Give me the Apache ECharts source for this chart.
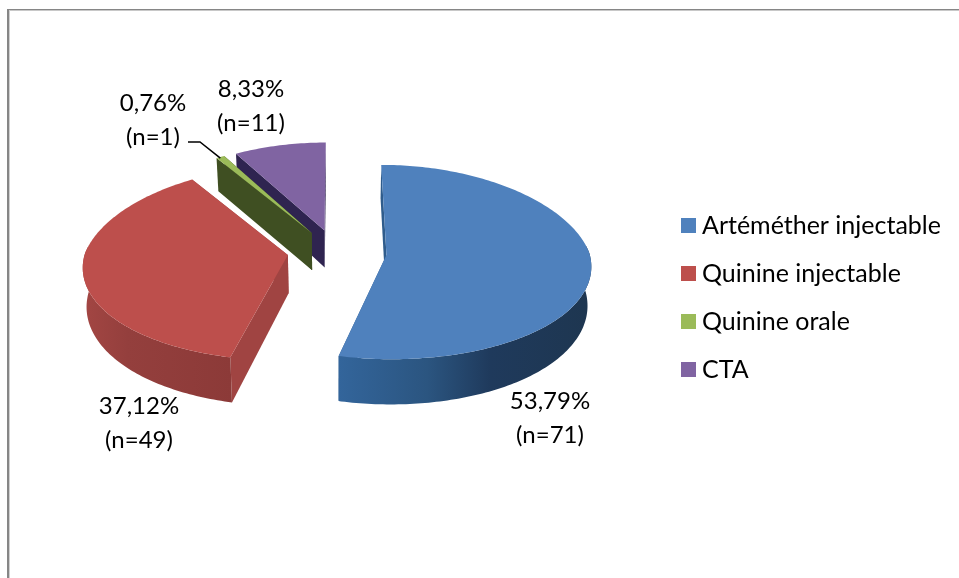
<!DOCTYPE html>
<html>
<head>
<meta charset="utf-8">
<style>
  html, body { margin: 0; padding: 0; background: #fff; }
  #chart { width: 959px; height: 578px; }
</style>
<script src="https://cdn.jsdelivr.net/npm/echarts@6/dist/echarts.min.js"></script>
</head>
<body>
<div id="chart"></div>
<script>
const names = ['Artéméther injectable', 'Quinine injectable', 'Quinine orale', 'CTA'];
const counts = [71, 49, 1, 11];
const percents = ['53,79%', '37,12%', '0,76%', '8,33%'];

const topColors = ['#4f81bd', '#bd4f4c', '#9bbb59', '#8064a2'];
const wallColors = ['#2f5c8c', '#a04442', '#3f4f22', '#2f2450'];
const rimStops = [
    [[0, '#33659b'], [0.35, '#2b5580'], [0.6, '#1f3a5c'], [1, '#1e3650']],
    [[0, '#a34643'], [0.3, '#943f3d'], [1, '#8c3a38']],
    [[0, '#3f4f22'], [1, '#3f4f22']],
    [[0, '#2f2450'], [1, '#2f2450']]
];
// label centres, same order as names
const labelPos = [[550, 418], [139, 423], [153, 120], [251, 106]];

const FONT = 'Lato';
const total = counts.reduce((a, b) => a + b, 0);
const rad = d => d * Math.PI / 180;

// hand tuned 3d view: ellipse + a bit of perspective
const view = { x0: 337, y0: 253, sx: 203, sy: 96.4, k: 0.064, kxFar: 0.12, kxNear: 0.09, depth: 38.3, kd: 0.149, explode: 0.245, lowShrink: 0.985 };

function project(u, v, low) {
    const py = 1 + view.k * v;
    const px = 1 + (v > 0 ? view.kxFar : view.kxNear) * v;
    const d = low ? view.depth / (1 + view.kd * v) : 0;
    const s = low ? view.lowShrink : 1;
    return [view.x0 + view.sx * u * s / px, view.y0 - view.sy * v / py + d];
}

function startOf(i) {
    let sum = 0;
    for (let j = 0; j < i; j++) sum += counts[j];
    return sum / total * 360;
}

function renderSlice(i) {
    return function (params, api) {
        const a0 = startOf(i);
        const a1 = a0 + api.value(0) / total * 360;
        const mid = rad((a0 + a1) / 2);
        const cu = view.explode * Math.sin(mid);
        const cv = view.explode * Math.cos(mid);
        const rimPt = (a, low) => project(cu + Math.sin(rad(a)), cv + Math.cos(rad(a)), low);
        // apexes of the two side slices sit a little higher than a plain explode gives
        const apex = low => project(cu, Math.max(cv, -0.02), low);

        const arc = [];
        for (let a = a0; a < a1; a += 1) arc.push(rimPt(a, false));
        arc.push(rimPt(a1, false));
        const top = [apex(false)].concat(arc);

        const wall = (a, fill) => ({
            type: 'polygon',
            shape: { points: [apex(false), rimPt(a, false), rimPt(a, true), apex(true)] },
            style: { fill: fill }
        });

        const children = [wall(a1, wallColors[i]), wall(a0, wallColors[i])];

        // outer wall, only the part facing the viewer
        const r0 = Math.max(a0, 84), r1 = Math.min(a1, 276);
        if (r1 > r0) {
            const upper = [], lower = [];
            for (let a = r0; a < r1; a += 1) {
                upper.push(rimPt(a, false));
                lower.unshift(rimPt(a, true));
            }
            upper.push(rimPt(r1, false));
            lower.unshift(rimPt(r1, true));
            children.push({
                type: 'polygon',
                shape: { points: upper.concat(lower) },
                style: {
                    fill: new echarts.graphic.LinearGradient(0, 0, 1, 0,
                        rimStops[i].map(s => ({ offset: s[0], color: s[1] })))
                }
            });
        }

        children.push({ type: 'polygon', shape: { points: top }, style: { fill: topColors[i] } });

        // small leader line for the tiny slice
        if (i === 2) {
            const tip = rimPt((a0 + a1) / 2, false);
            children.push({
                type: 'polyline',
                shape: { points: [[188, 142], [200, 142], [tip[0], tip[1] + 1]] },
                style: { stroke: '#000', lineWidth: 1.5, fill: null }
            });
        }

        children.push({
            type: 'text',
            style: {
                text: percents[i] + '\n(n=' + counts[i] + ')',
                x: labelPos[i][0],
                y: labelPos[i][1],
                align: 'center',
                verticalAlign: 'middle',
                font: '24px ' + FONT,
                lineHeight: 34,
                fill: '#000'
            }
        });
        return { type: 'group', children: children };
    };
}

const chart = echarts.init(document.getElementById('chart'));

// back slices first so the front ones sit on top
const drawOrder = [3, 2, 1, 0];

chart.setOption({
    animation: false,
    backgroundColor: '#fff',
    legend: {
        data: names,
        orient: 'vertical',
        left: 676,
        top: 207,
        itemWidth: 15,
        itemHeight: 15,
        itemGap: 21,
        selectedMode: false,
        icon: 'rect',
        textStyle: { fontFamily: FONT, fontSize: 25, color: '#000', padding: [0, 0, 0, 1], lineHeight: 27 }
    },
    graphic: [
        { type: 'rect', shape: { x: 7, y: 10, width: 952, height: 1 }, style: { fill: '#c8c8c8' } },
        { type: 'rect', shape: { x: 7, y: 9, width: 952, height: 1 }, style: { fill: '#868686' } },
        { type: 'rect', shape: { x: 7, y: 9, width: 2, height: 569 }, style: { fill: '#868686' } },
        { type: 'rect', shape: { x: 9, y: 10, width: 1, height: 568 }, style: { fill: '#d0d0d0' } }
    ],
    series: drawOrder.map(i => ({
        type: 'custom',
        name: names[i],
        coordinateSystem: 'none',
        silent: true,
        itemStyle: { color: topColors[i] },
        data: [[counts[i]]],
        renderItem: renderSlice(i)
    }))
});
</script>
</body>
</html>
